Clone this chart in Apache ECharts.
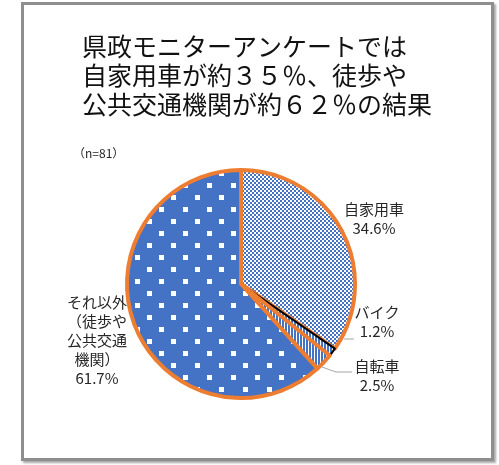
<!DOCTYPE html>
<html><head><meta charset="utf-8">
<script src="https://cdn.jsdelivr.net/npm/echarts@6/dist/echarts.min.js"></script>
<style>
html,body{margin:0;padding:0;background:#fff;}
#frame{position:absolute;left:21px;top:2px;width:467px;height:453px;border:3px solid #8e8e8e;box-shadow:2px 2px 2px #a8a8a8;}
#c{position:absolute;left:0;top:0;width:499px;height:465px;}
</style></head>
<body><div id="frame"></div><div id="c"></div>
<script>
// ---- data ----
const categories = ['自家用車', 'バイク', '自転車', 'それ以外（徒歩や公共交通機関）'];
const labelTexts = ['自家用車', 'バイク', '自転車', 'それ以外\n（徒歩や\n公共交通\n機関）'];
const values = [34.6, 1.2, 2.5, 61.7];
const titleLines = ['県政モニターアンケートでは', '自家用車が約３５％、徒歩や', '公共交通機関が約６２％の結果'];
const noteText = '（n=81）';

// ---- styling / layout ----
const BLUE = '#4472C4', ORANGE = '#ED7D31';
const labelPos = [[374, 219], [377, 322], [377, 376], [97, 340]];
const leaderPts = [null, [[344, 339], [349, 339], [354, 339]], [[322, 367], [336, 372], [352, 372]], null];

function tile(w, h, draw) {
  const c = document.createElement('canvas');
  c.width = w; c.height = h;
  const g = c.getContext('2d');
  draw(g);
  return { image: c, repeat: 'repeat' };
}
const checker = tile(4, 4, g => {
  g.fillStyle = '#fff'; g.fillRect(0, 0, 4, 4);
  g.fillStyle = BLUE; g.fillRect(0, 0, 2, 2); g.fillRect(2, 2, 2, 2);
});
const stripes = tile(3, 3, g => {
  g.fillStyle = '#fff'; g.fillRect(0, 0, 3, 3);
  g.fillStyle = BLUE; g.fillRect(0, 0, 2, 3);
});
const dots = tile(24, 24, g => {
  g.fillStyle = BLUE; g.fillRect(0, 0, 24, 24);
  g.fillStyle = '#fff'; g.fillRect(3, 3, 5, 5); g.fillRect(15, 15, 5, 5);
});
const fills = [checker, stripes, stripes, dots];

const chart = echarts.init(document.getElementById('c'), null, { renderer: 'canvas' });
const FONT = '"Noto Sans CJK JP", "Noto Sans", sans-serif';

chart.setOption({
  animation: false,
  title: [{
    text: titleLines.join('\n'),
    left: 77, top: 27,
    textStyle: { fontFamily: FONT, fontSize: 25, lineHeight: 29, fontWeight: 'normal', color: '#111' }
  }, {
    text: noteText,
    left: 68, top: 142,
    textStyle: { fontFamily: FONT, fontSize: 12, fontWeight: 'normal', color: '#222' }
  }],
  series: [{
    type: 'pie',
    center: [241, 284],
    radius: 114,
    startAngle: 90,
    clockwise: true,
    avoidLabelOverlap: false,
    emphasis: { disabled: true },
    label: {
      show: true,
      position: 'outside',
      fontFamily: FONT,
      fontSize: 15,
      lineHeight: 19,
      color: '#262626',
      align: 'center',
      formatter: p => labelTexts[p.dataIndex] + '\n' + values[p.dataIndex].toFixed(1) + '%'
    },
    labelLine: { show: true, lineStyle: { color: '#a6a6a6', width: 1 } },
    labelLayout: p => {
      const i = p.dataIndex;
      const o = { x: labelPos[i][0], y: labelPos[i][1], align: 'center', verticalAlign: 'middle' };
      if (leaderPts[i]) o.labelLinePoints = leaderPts[i];
      return o;
    },
    data: categories.map((name, i) => ({
      name: name,
      value: values[i],
      itemStyle: {
        color: fills[i],
        borderColor: i === 1 ? '#000' : ORANGE,
        borderWidth: i === 1 ? 2 : 4
      },
      labelLine: { show: !!leaderPts[i] }
    }))
  }]
});
</script>
</body></html>
